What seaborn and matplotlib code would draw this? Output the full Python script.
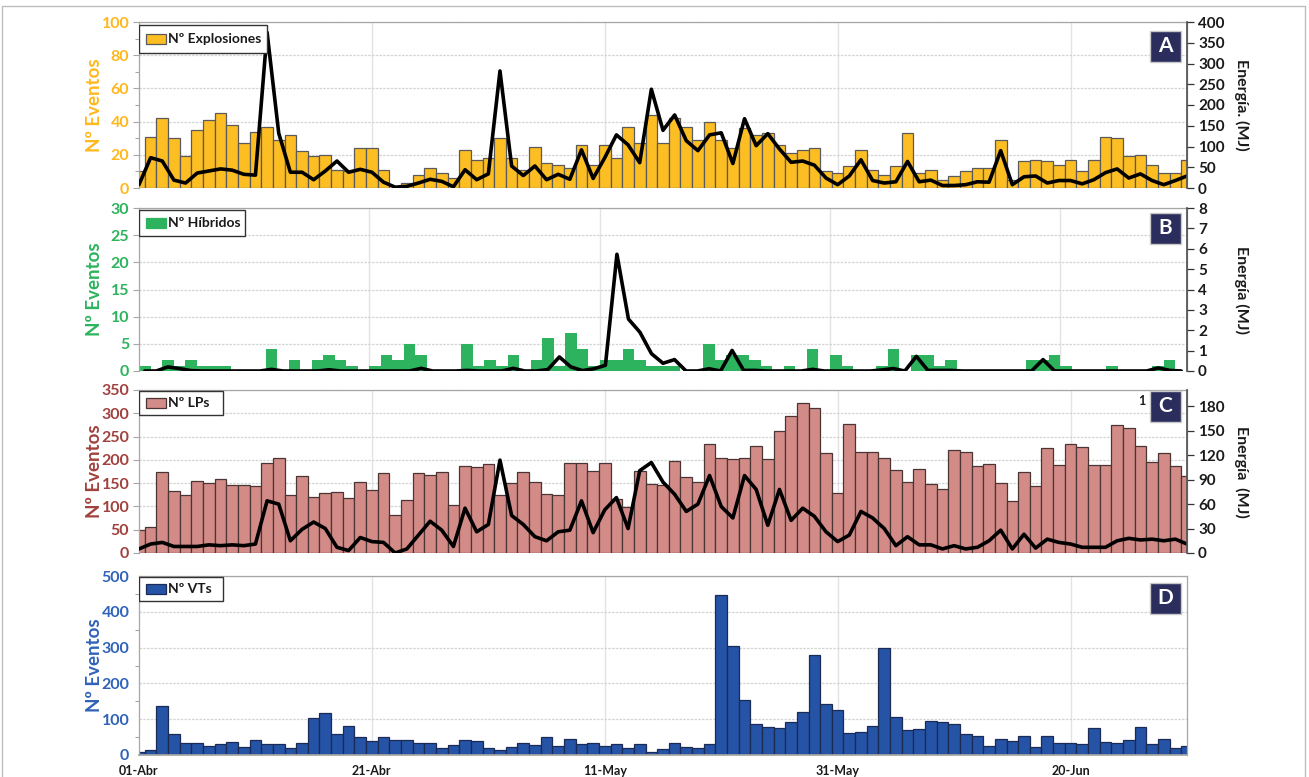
import numpy as np
import pandas as pd
import matplotlib
matplotlib.use("Agg")
import matplotlib.pyplot as plt
from matplotlib.patches import Patch, Rectangle
from matplotlib.ticker import MultipleLocator, FixedLocator
import seaborn as sns

# ---------------------------------------------------------------- data
days = list(range(91))                       # 01-Abr ... 30-Jun
date_ticks = [0, 20, 40, 60, 80]
date_labels = ["01-Abr", "21-Abr", "11-May", "31-May", "20-Jun"]

explosiones = [10, 31, 42, 30, 19, 35, 41, 45, 38, 27,
               34, 37, 29, 32, 22, 19, 20, 11, 10, 24,
               24, 11, 0, 3, 8, 12, 9, 6, 23, 17,
               18, 30, 18, 11, 25, 15, 14, 12, 26, 14,
               26, 18, 37, 27, 44, 27, 42, 37, 29, 40,
               29, 24, 36, 32, 33, 26, 21, 23, 24, 10,
               9, 13, 23, 11, 8, 13, 33, 9, 11, 5,
               7, 10, 12, 12, 29, 5, 16, 17, 16, 14,
               17, 10, 17, 31, 30, 19, 20, 14, 9, 9, 17]
energia_explosiones = [8, 73, 65, 19, 12, 36, 41, 46, 43, 33,
                       31, 375, 132, 38, 38, 20, 41, 65, 38, 45,
                       38, 14, 2, 4, 12, 21, 16, 3, 44, 20,
                       34, 282, 53, 30, 53, 20, 33, 21, 92, 23,
                       73, 128, 104, 61, 238, 139, 176, 114, 90, 128,
                       133, 59, 167, 102, 131, 94, 62, 65, 55, 24,
                       8, 29, 68, 18, 12, 15, 64, 15, 19, 6,
                       6, 8, 15, 14, 90, 8, 27, 29, 12, 18,
                       18, 10, 20, 37, 46, 24, 34, 18, 8, 18, 29]

hibridos = [1, 0, 2, 1, 2, 1, 1, 1, 0, 0,
            0, 4, 0, 2, 0, 2, 3, 2, 1, 0,
            1, 3, 2, 5, 3, 0, 0, 0, 5, 1,
            2, 1, 3, 0, 2, 6, 1, 7, 4, 1,
            2, 2, 4, 2, 1, 1, 1, 0, 0, 5,
            2, 3, 3, 2, 1, 0, 1, 0, 4, 0,
            3, 1, 0, 0, 1, 4, 0, 3, 3, 1,
            2, 0, 0, 0, 0, 0, 0, 2, 2, 3,
            1, 0, 0, 0, 1, 0, 0, 0, 1, 2, 0]
energia_hibridos = [0, 0, 0.2, 0.12, 0.02, 0, 0, 0, 0, 0,
                    0, 0.08, 0, 0, 0, 0, 0.06, 0, 0, 0,
                    0, 0, 0, 0, 0.13, 0, 0, 0, 0.03, 0,
                    0, 0, 0.13, 0, 0, 0.07, 0.69, 0.2, 0.02, 0.11,
                    0.28, 5.73, 2.55, 1.9, 0.85, 0.38, 0.56, 0, 0, 0.11,
                    0, 1.01, 0.03, 0.03, 0, 0, 0, 0, 0.08, 0,
                    0, 0, 0, 0, 0.05, 0.12, 0, 0.72, 0.03, 0.03,
                    0.03, 0, 0, 0, 0, 0, 0, 0, 0.56, 0,
                    0, 0, 0, 0, 0, 0, 0, 0, 0.15, 0.03, 0]

lps = [50, 56, 174, 133, 124, 155, 151, 158, 147, 147,
       143, 193, 205, 124, 166, 120, 128, 130, 118, 152,
       135, 172, 82, 114, 171, 167, 174, 102, 187, 185,
       192, 125, 150, 174, 152, 127, 124, 193, 193, 176,
       193, 115, 98, 177, 148, 145, 197, 164, 153, 234,
       203, 202, 203, 230, 202, 262, 294, 323, 312, 215,
       129, 278, 217, 216, 203, 178, 152, 180, 148, 138,
       221, 216, 187, 192, 150, 111, 173, 143, 226, 190,
       234, 228, 188, 188, 274, 268, 229, 195, 215, 186, 166]
energia_lps = [5, 11, 13, 8, 8, 8, 10, 9, 10, 9,
               11, 64, 60, 15, 29, 38, 30, 7, 3, 19,
               14, 13, 0, 5, 22, 39, 28, 8, 55, 26,
               35, 114, 46, 35, 20, 15, 26, 28, 64, 25,
               53, 68, 30, 101, 111, 87, 72, 51, 60, 95,
               57, 43, 95, 78, 34, 78, 40, 55, 45, 26,
               14, 22, 51, 43, 30, 9, 20, 10, 10, 5,
               9, 5, 7, 15, 28, 5, 23, 6, 17, 13,
               11, 7, 7, 7, 15, 18, 16, 17, 15, 17, 11]

vts = [9, 14, 136, 58, 33, 33, 26, 30, 37, 22,
       41, 30, 30, 19, 33, 102, 118, 60, 81, 51,
       38, 51, 41, 41, 33, 33, 19, 28, 41, 38,
       20, 15, 21, 33, 28, 51, 24, 44, 30, 33,
       24, 30, 20, 30, 9, 16, 33, 22, 19, 30,
       448, 305, 155, 86, 77, 76, 91, 119, 278, 143,
       127, 62, 65, 80, 300, 107, 71, 72, 94, 91,
       86, 60, 52, 26, 44, 40, 54, 23, 54, 33,
       33, 30, 75, 37, 33, 41, 77, 32, 46, 20, 26]

# ---------------------------------------------------------------- style
sns.set_theme(style="white")
plt.rcParams["font.family"] = ["Lato", "DejaVu Sans"]
plt.rcParams["font.weight"] = "bold"

W, H = 1309, 777
fig = plt.figure(figsize=(W / 100, H / 100), dpi=100)

GRID = "#D4D4D4"
SPINE = "#A6A6A6"
NAVY = "#2B2D5C"

# light outer frame
fig.add_artist(Rectangle((2 / W, -0.01), (W - 6) / W, 1 - 6 / H + 0.01,
                         transform=fig.transFigure, fill=False,
                         edgecolor="#BDBDBD", linewidth=1.0))


def px_rect(left, top, right, bottom):
    return [left / W, 1 - bottom / H, (right - left) / W, (bottom - top) / H]


def panel(rect, counts, bar_color, edge_color, lab_color, legend_text,
          legend_box, letter, letter_box, ymax, ystep, yminor,
          energy=None, rmax=None, rticks=None, rlabel=None, between=False):
    ax = fig.add_axes(px_rect(*rect))
    frame = pd.DataFrame({"dia": days, "eventos": counts})
    sns.barplot(data=frame, x="dia", y="eventos", ax=ax, native_scale=True,
                width=1.0, color=bar_color, saturation=1, errorbar=None,
                edgecolor=edge_color, linewidth=0.9 if edge_color else 0,
                zorder=2)
    if between:
        ax.set_xlim(-0.5, 90.5)
        grid_x = [t - 0.5 for t in date_ticks[1:]]
    else:
        ax.set_xlim(0, 90)
        grid_x = date_ticks[1:]
    ax.set_ylim(0, ymax)
    ax.set_axisbelow(True)
    ax.yaxis.set_major_locator(MultipleLocator(ystep))
    if yminor:
        ax.yaxis.set_minor_locator(MultipleLocator(yminor))
    ax.grid(axis="y", color=GRID, linewidth=0.9, linestyle=(0, (2, 1)))
    for gx in grid_x:
        ax.axvline(gx, color="#E3E3E3", linewidth=1.0, zorder=0)
    ax.set_xticks([])
    ax.set_xlabel("")
    ax.set_ylabel("Nº Eventos", color=lab_color, fontsize=13.5,
                  fontweight="bold")
    ax.yaxis.set_label_coords(-0.034, 0.5)
    ax.tick_params(axis="y", which="major", colors=SPINE, labelcolor=lab_color,
                   labelsize=11.5, length=4, width=0.8, direction="out",
                   pad=3)
    ax.tick_params(axis="y", which="minor", colors=SPINE, length=3,
                   width=0.8, direction="out", left=True)
    for lbl in ax.get_yticklabels():
        lbl.set_fontweight("bold")
    for side in ("left", "top", "right"):
        ax.spines[side].set_color(SPINE)
        ax.spines[side].set_linewidth(0.9)
    ax.spines["bottom"].set_visible(False)

    top_ax = ax
    if energy is not None:
        ax2 = ax.twinx()
        eframe = pd.DataFrame({"dia": days, "energia": energy})
        sns.lineplot(data=eframe, x="dia", y="energia", ax=ax2,
                     color="black", linewidth=2.6)
        ax2.set_ylim(0, rmax)
        ax2.set_yticks(rticks)
        ax2.set_xlabel("")
        ax2.set_ylabel(rlabel, rotation=270, fontsize=11.5,
                       fontweight="bold", color="#1A1A1A", va="center")
        ax2.yaxis.set_label_coords(1.052, 0.5)
        ax2.tick_params(axis="y", colors="#333333", labelcolor="#1A1A1A",
                        labelsize=11, length=5, width=0.9, pad=3)
        for lbl in ax2.get_yticklabels():
            lbl.set_fontweight("bold")
        for side in ax2.spines:
            ax2.spines[side].set_visible(False)
        ax2.spines["right"].set_visible(True)
        ax2.spines["right"].set_color("#555555")
        if between:
            ax2.set_xlim(-0.5, 90.5)
        else:
            ax2.set_xlim(0, 90)
        top_ax = ax2

    # legend box
    lx, ly, lw, lh = legend_box
    top_ax.add_artist(Rectangle((lx / W, 1 - (ly + lh) / H), lw / W, lh / H,
                                transform=fig.transFigure, facecolor="white",
                                edgecolor="#333333", linewidth=1.0, zorder=10))
    top_ax.add_artist(Rectangle(((lx + 7) / W, 1 - (ly + lh / 2 + 5) / H),
                                20 / W, 10 / H, transform=fig.transFigure,
                                facecolor=bar_color,
                                edgecolor=edge_color if edge_color else bar_color,
                                linewidth=0.9, zorder=11))
    fig.text((lx + 29) / W, 1 - (ly + lh / 2) / H, legend_text,
             fontsize=10, fontweight="bold", color="#1A1A1A",
             va="center", ha="left", zorder=12)

    # panel letter
    bx, by, bs = letter_box
    fig.add_artist(Rectangle((bx / W, 1 - (by + bs) / H), bs / W, bs / H,
                             transform=fig.transFigure, facecolor=NAVY,
                             edgecolor="#C9C9C9", linewidth=1.0, zorder=12))
    fig.text((bx + bs / 2) / W, 1 - (by + bs / 2) / H, letter, color="white",
             fontsize=15, fontweight="bold", ha="center", va="center",
             zorder=13)
    return ax


panel((139, 22, 1187, 188), explosiones, "#FDBE23", "#5A5A5A", "#FFB81C",
      "Nº Explosiones", (139, 25, 128, 28), "A", (1150, 31, 31),
      100, 20, 10, energy=energia_explosiones, rmax=400,
      rticks=list(range(0, 401, 50)), rlabel="Energía. (MJ)")

panel((139, 208, 1187, 371), hibridos, "#2DB35D", None, "#2DB35D",
      "Nº Híbridos", (139, 210, 106, 26), "B", (1150, 213, 31),
      30, 5, None, energy=energia_hibridos, rmax=8,
      rticks=list(range(0, 9)), rlabel="Energía (MJ)", between=True)

panel((139, 390, 1187, 553), lps, "#D38B88", "#4A3434", "#A0413D",
      "Nº LPs", (139, 391, 84, 24), "C", (1150, 391, 31),
      350, 50, None, energy=energia_lps, rmax=200,
      rticks=list(range(0, 181, 30)), rlabel="Energía  (MJ)")

ax_d = panel((139, 576, 1187, 755), vts, "#2553A5", "#1B2B55", "#2F62B8",
             "Nº VTs", (139, 577, 84, 24), "D", (1150, 583, 31),
             500, 100, 50)

# date labels under the last panel
ax_d.set_xticks(date_ticks)
ax_d.set_xticklabels(date_labels)
ax_d.tick_params(axis="x", length=0, labelsize=9, pad=7,
                 labelcolor="#1A1A1A")
for lbl in ax_d.get_xticklabels():
    lbl.set_fontweight("bold")
ax_d.spines["bottom"].set_visible(True)
ax_d.spines["bottom"].set_color(SPINE)

# small stray mark beside the C tag
fig.text(1142 / W, 1 - 401 / H, "1", fontsize=9, fontweight="bold",
         color="#1A1A1A", ha="center", va="center")

fig.savefig("out.png", dpi=100)
